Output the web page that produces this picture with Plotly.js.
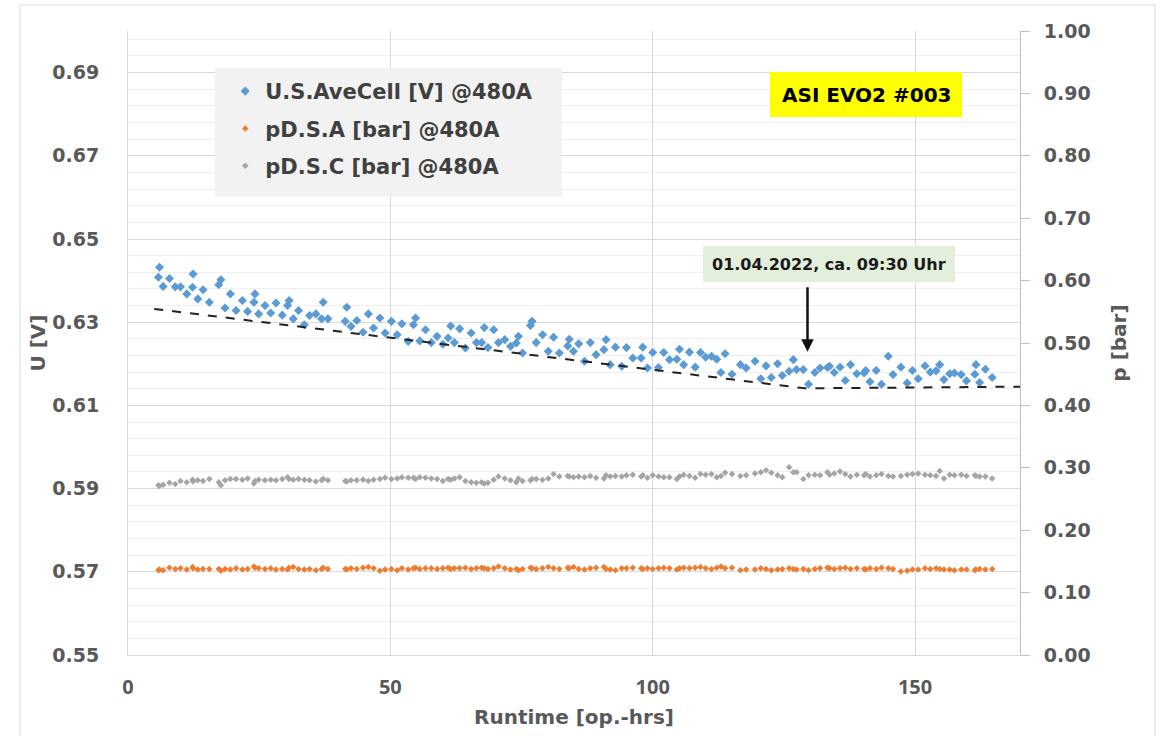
<!DOCTYPE html>
<html>
<head>
<meta charset="utf-8">
<script src="https://cdn.plot.ly/plotly-3.0.1.min.js"></script>
<style>html,body{margin:0;padding:0;background:#fff;}#chart{width:1161px;height:736px;}</style>
</head>
<body>
<div id="chart"></div>
<script>
const runtime = [5.8,6.0,6.7,7.9,9.0,10.0,11.2,12.3,12.4,13.3,14.3,15.5,17.3,17.7,18.5,19.5,20.6,21.8,22.8,24.0,
24.2,24.9,26.1,27.2,28.2,29.4,30.4,30.7,31.5,32.5,33.6,34.6,35.8,36.9,37.2,38.1,41.4,41.7,42.5,43.6,
44.8,45.8,46.8,48.0,49.0,50.2,51.3,52.2,53.4,54.4,54.8,55.6,56.7,57.8,58.9,60.0,61.0,61.5,62.2,63.2,
64.3,65.4,66.4,67.4,67.9,68.6,69.7,70.6,71.8,72.9,74.0,74.4,75.2,76.7,77.0,77.8,79.0,80.1,81.1,82.2,
83.8,84.1,84.9,85.9,87.0,88.1,89.2,90.7,91.1,91.9,92.9,94.1,95.0,96.2,97.8,98.1,99.0,100.0,101.1,102.1,
103.2,104.6,105.1,105.9,107.0,108.1,109.1,110.1,111.2,112.2,113.0,113.8,115.1,116.7,117.8,119.5,120.6,121.6,122.6,123.8,
124.7,126.0,126.8,127.4,128.7,129.7,130.9,131.9,133.3,133.7,134.6,135.7,136.7,137.7,138.9,140.3,140.6,141.4,142.6,143.6,
144.9,145.8,147.3,148.5,149.5,150.6,151.9,152.9,154.0,154.7,155.5,156.6,157.5,158.8,159.8,161.4,161.6,162.3,163.4,164.7];

const uAveCell = [0.6408,0.6432,0.6386,0.6405,0.6385,0.6385,0.6368,0.6384,0.6416,0.6356,0.6378,0.6348,0.6390,0.6402,0.6334,0.6368,0.6328,0.6352,0.6326,0.6348,
0.6368,0.6320,0.6340,0.6322,0.6346,0.6317,0.6340,0.6352,0.6308,0.6328,0.6294,0.6316,0.6320,0.6308,0.6348,0.6308,0.6302,0.6336,0.6290,0.6304,
0.6276,0.6320,0.6286,0.6310,0.6274,0.6302,0.6270,0.6296,0.6254,0.6294,0.6310,0.6255,0.6282,0.6251,0.6266,0.6247,0.6262,0.6291,0.6251,0.6284,
0.6238,0.6274,0.6251,0.6251,0.6287,0.6239,0.6282,0.6251,0.6258,0.6242,0.6250,0.6266,0.6226,0.6292,0.6302,0.6251,0.6270,0.6230,0.6264,0.6226,
0.6243,0.6259,0.6230,0.6248,0.6206,0.6251,0.6222,0.6234,0.6258,0.6198,0.6240,0.6194,0.6239,0.6214,0.6214,0.6240,0.6190,0.6227,0.6191,0.6227,
0.6210,0.6211,0.6235,0.6198,0.6228,0.6192,0.6227,0.6216,0.6218,0.6211,0.6179,0.6224,0.6175,0.6198,0.6190,0.6206,0.6164,0.6195,0.6167,0.6200,
0.6172,0.6182,0.6210,0.6186,0.6186,0.6151,0.6179,0.6190,0.6191,0.6194,0.6179,0.6192,0.6160,0.6198,0.6176,0.6178,0.6184,0.6157,0.6184,0.6151,
0.6218,0.6174,0.6192,0.6154,0.6184,0.6164,0.6195,0.6180,0.6183,0.6198,0.6162,0.6176,0.6178,0.6174,0.6159,0.6175,0.6198,0.6155,0.6187,0.6167];

const pDSA = [0.136,0.137,0.136,0.140,0.138,0.139,0.137,0.141,0.139,0.137,0.138,0.138,0.138,0.135,0.138,0.137,0.139,0.137,0.138,0.142,
0.140,0.139,0.138,0.139,0.137,0.138,0.137,0.140,0.141,0.138,0.137,0.138,0.136,0.138,0.140,0.138,0.138,0.137,0.139,0.138,
0.140,0.141,0.139,0.135,0.137,0.138,0.136,0.139,0.137,0.139,0.140,0.138,0.139,0.139,0.138,0.139,0.140,0.138,0.139,0.139,
0.140,0.138,0.139,0.140,0.139,0.138,0.139,0.142,0.139,0.137,0.138,0.136,0.138,0.140,0.139,0.138,0.139,0.141,0.139,0.138,
0.140,0.139,0.141,0.138,0.137,0.139,0.140,0.141,0.138,0.137,0.136,0.139,0.139,0.140,0.139,0.138,0.139,0.138,0.139,0.140,
0.139,0.137,0.139,0.140,0.139,0.140,0.141,0.139,0.138,0.140,0.142,0.139,0.140,0.136,0.137,0.137,0.139,0.138,0.136,0.137,
0.138,0.139,0.138,0.137,0.138,0.136,0.138,0.139,0.140,0.139,0.138,0.139,0.140,0.138,0.139,0.138,0.137,0.139,0.138,0.140,
0.139,0.138,0.134,0.135,0.137,0.137,0.139,0.138,0.139,0.138,0.137,0.137,0.136,0.137,0.137,0.136,0.137,0.138,0.137,0.138];

const pDSC = [0.272,0.271,0.273,0.276,0.274,0.279,0.277,0.281,0.278,0.280,0.279,0.282,0.277,0.272,0.280,0.282,0.282,0.281,0.283,0.275,
0.279,0.281,0.280,0.281,0.280,0.282,0.285,0.282,0.281,0.282,0.281,0.280,0.278,0.280,0.282,0.280,0.279,0.278,0.280,0.280,
0.281,0.279,0.281,0.282,0.284,0.282,0.283,0.285,0.284,0.284,0.282,0.285,0.284,0.283,0.282,0.279,0.282,0.281,0.283,0.285,
0.279,0.277,0.276,0.277,0.275,0.276,0.281,0.286,0.283,0.280,0.277,0.283,0.279,0.280,0.282,0.282,0.281,0.283,0.290,0.286,
0.287,0.286,0.285,0.286,0.285,0.287,0.284,0.283,0.288,0.286,0.287,0.286,0.288,0.289,0.286,0.288,0.284,0.288,0.286,0.285,
0.285,0.282,0.286,0.289,0.287,0.284,0.290,0.289,0.290,0.285,0.287,0.292,0.290,0.287,0.288,0.291,0.293,0.296,0.292,0.288,
0.285,0.301,0.293,0.293,0.282,0.288,0.289,0.288,0.293,0.289,0.291,0.294,0.290,0.286,0.289,0.288,0.290,0.286,0.288,0.290,
0.287,0.286,0.287,0.289,0.290,0.291,0.289,0.288,0.287,0.295,0.283,0.289,0.288,0.289,0.287,0.288,0.287,0.286,0.286,0.283];

const trendX = [5, 129, 170];
const trendY = [0.6332, 0.6141, 0.6145];

const seriesNames = ['U.S.AveCell [V] @480A', 'pD.S.A [bar] @480A', 'pD.S.C [bar] @480A'];
const colors = ['#5b9bd5', '#ed7d31', '#a5a5a5'];

const DV = 'DejaVu Sans, Verdana, sans-serif';
const OS = 'Open Sans, Liberation Sans, sans-serif';
const yTickFont = {family: DV, size: 19, color: '#595959', weight: 700};
const xTickFont = {family: OS, size: 20, color: '#595959', weight: 700};
const titleFont = {family: DV, size: 20, color: '#595959', weight: 700};

const traces = [
  {x: runtime, y: uAveCell, type: 'scatter', mode: 'markers', name: seriesNames[0], legendgroup: 'a',
   marker: {symbol: 'diamond', size: 7, color: colors[0]}, yaxis: 'y'},
  {x: runtime, y: pDSA, type: 'scatter', mode: 'markers', name: seriesNames[1], legendgroup: 'b',
   marker: {symbol: 'diamond', size: 5, color: colors[1]}, yaxis: 'y2'},
  {x: runtime, y: pDSC, type: 'scatter', mode: 'markers', name: seriesNames[2], legendgroup: 'c',
   marker: {symbol: 'diamond', size: 5, color: colors[2]}, yaxis: 'y2'},
  {x: trendX, y: trendY, type: 'scatter', mode: 'lines', showlegend: false, hoverinfo: 'skip',
   line: {color: '#222222', width: 2, dash: 'dash'}, yaxis: 'y'}
];

const layout = {
  width: 1161, height: 736,
  margin: {l: 128, r: 141, t: 31, b: 81},
  paper_bgcolor: '#ffffff', plot_bgcolor: '#ffffff',
  showlegend: true,
  legend: {x: 0.109, y: 0.936, xanchor: 'left', yanchor: 'top', bgcolor: 'rgba(0,0,0,0)',
           traceorder: 'grouped', tracegroupgap: 7,
           font: {family: DV, size: 21, color: '#404040', weight: 700}},
  xaxis: {range: [0, 170], tick0: 0, dtick: 50, showgrid: true, gridcolor: '#d9d9d9', zeroline: false,
          showline: true, linecolor: '#d9d9d9', ticks: '', tickfont: xTickFont, ticklabelstandoff: 14,
          title: {text: 'Runtime [op.-hrs]', font: titleFont, standoff: 10}},
  yaxis: {range: [0.55, 0.70], tick0: 0.55, dtick: 0.02, tickformat: '.2f', showgrid: true, gridcolor: '#d9d9d9',
          minor: {tick0: 0.55, dtick: 0.004, showgrid: true, gridcolor: '#efefef', ticks: ''},
          zeroline: false, showline: true, linecolor: '#d9d9d9', ticks: '', tickfont: yTickFont, ticklabelstandoff: 24,
          title: {text: 'U [V]', font: titleFont, standoff: 1}},
  yaxis2: {overlaying: 'y', side: 'right', range: [0, 1], tick0: 0, dtick: 0.1, tickformat: '.2f',
           showgrid: false, zeroline: false, showline: true, linecolor: '#bfbfbf', ticks: 'outside',
           ticklen: 9, tickcolor: '#bfbfbf', tickfont: yTickFont, ticklabelstandoff: 10,
           title: {text: 'p [bar]', font: titleFont, standoff: 22}},
  shapes: [
    {type: 'rect', xref: 'paper', yref: 'paper', x0: -0.1211, x1: 1.1513, y0: -0.14, y1: 1.0417,
     line: {color: '#d9d9d9', width: 1}, fillcolor: 'rgba(0,0,0,0)', layer: 'below'},
    {type: 'rect', xref: 'paper', yref: 'paper', x0: 0.0975, x1: 0.4865, y0: 0.734, y1: 0.9407,
     line: {width: 0}, fillcolor: '#f2f2f2', layer: 'above'},
    {type: 'rect', xref: 'paper', yref: 'paper', x0: 0.7197, x1: 0.935, y0: 0.8622, y1: 0.9343,
     line: {width: 0}, fillcolor: '#ffff00', layer: 'above'},
    {type: 'rect', xref: 'paper', yref: 'paper', x0: 0.6446, x1: 0.9271, y0: 0.5978, y1: 0.6554,
     line: {width: 0}, fillcolor: '#e2efda', layer: 'above'}
  ],
  annotations: [
    {xref: 'paper', yref: 'paper', x: 0.8274, y: 0.8982, text: 'ASI EVO2 #003', showarrow: false,
     font: {family: DV, size: 20, color: '#000000', weight: 700}, xanchor: 'center', yanchor: 'middle'},
    {xref: 'paper', yref: 'paper', x: 0.7859, y: 0.6266, text: '01.04.2022, ca. 09:30 Uhr', showarrow: false,
     font: {family: DV, size: 16, color: '#1a1a1a', weight: 700}, xanchor: 'center', yanchor: 'middle'},
    {xref: 'x', yref: 'y', x: 129.5, y: 0.6229, text: '', showarrow: true, ax: 0, ay: -66,
     arrowhead: 2, arrowsize: 1, arrowwidth: 2.5, arrowcolor: '#111111'}
  ]
};

Plotly.newPlot('chart', traces, layout, {displayModeBar: false, staticPlot: true});
</script>
</body>
</html>
